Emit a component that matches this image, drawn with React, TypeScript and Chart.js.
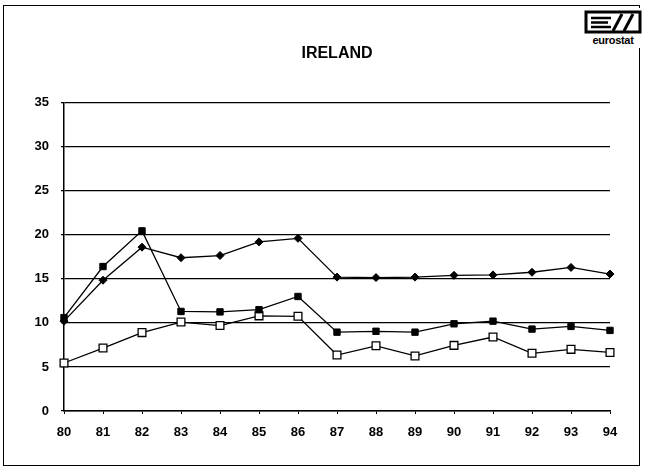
import React, { useEffect, useRef } from "react";
import { Chart, registerables } from "chart.js";

Chart.register(...registerables);

const TITLE = "IRELAND";
const YEARS = ["80", "81", "82", "83", "84", "85", "86", "87", "88", "89", "90", "91", "92", "93", "94"];
const Y_TICKS = [0, 5, 10, 15, 20, 25, 30, 35];

const SERIES_DIAMOND = [10.2, 14.85, 18.6, 17.4, 17.65, 19.2, 19.6, 15.2, 15.15, 15.2, 15.4, 15.45, 15.75, 16.3, 15.55];
const SERIES_FILLED_SQUARE = [10.6, 16.4, 20.45, 11.3, 11.25, 11.5, 13.0, 8.95, 9.05, 8.95, 9.9, 10.2, 9.3, 9.6, 9.15];
const SERIES_OPEN_SQUARE = [5.45, 7.15, 8.9, 10.1, 9.7, 10.8, 10.75, 6.35, 7.4, 6.25, 7.45, 8.4, 6.55, 7.0, 6.65];

const FONT = "'Liberation Sans', Arial, sans-serif";

export default function App() {
  const ref = useRef<HTMLCanvasElement | null>(null);

  useEffect(() => {
    document.body.style.margin = "0";
    const canvas = ref.current;
    if (!canvas) return;
    const chart = new Chart(canvas, {
      type: "line",
      data: {
        labels: YEARS,
        datasets: [
          {
            label: "Series 1",
            data: SERIES_DIAMOND,
            borderColor: "#000",
            backgroundColor: "#000",
            borderWidth: 1.3,
            pointStyle: "rectRot",
            pointRadius: 4,
            pointBorderWidth: 1,
            pointBackgroundColor: "#000",
            pointBorderColor: "#000",
            tension: 0,
          },
          {
            label: "Series 2",
            data: SERIES_FILLED_SQUARE,
            borderColor: "#000",
            backgroundColor: "#000",
            borderWidth: 1.3,
            pointStyle: "rect",
            pointRadius: 4.5,
            pointBorderWidth: 1,
            pointBackgroundColor: "#000",
            pointBorderColor: "#000",
            tension: 0,
          },
          {
            label: "Series 3",
            data: SERIES_OPEN_SQUARE,
            borderColor: "#000",
            backgroundColor: "#fff",
            borderWidth: 1.3,
            pointStyle: "rect",
            pointRadius: 5.5,
            pointBorderWidth: 1.3,
            pointBackgroundColor: "#fff",
            pointBorderColor: "#000",
            tension: 0,
          },
        ],
      },
      options: {
        responsive: false,
        animation: false,
        devicePixelRatio: 1,
        layout: { padding: { left: 0, top: 44, right: 37, bottom: 27 } },
        plugins: {
          legend: { display: false },
          tooltip: { enabled: false },
          title: {
            display: true,
            fullSize: false,
            text: TITLE,
            color: "#000",
            font: { family: FONT, size: 16, weight: "bold" },
            padding: { top: 0, bottom: 39.5 },
          },
        },
        scales: {
          x: {
            type: "category",
            offset: false,
            afterFit: (s: any) => {
              s.height = 30;
            },
            grid: {
              display: true,
              drawOnChartArea: false,
              drawTicks: true,
              tickLength: 3,
              color: "#000",
              lineWidth: 1,
            },
            border: { display: true, color: "#000", width: 1.5 },
            ticks: {
              color: "#000",
              font: { family: FONT, size: 13, weight: "bold" },
              padding: 11,
              maxRotation: 0,
              autoSkip: false,
            },
          },
          y: {
            type: "linear",
            min: 0,
            max: 35,
            afterFit: (s: any) => {
              s.width = 64;
            },
            afterBuildTicks: (s: any) => {
              s.ticks = Y_TICKS.map((v) => ({ value: v }));
            },
            grid: {
              color: "#000",
              lineWidth: 1.2,
              drawTicks: true,
              tickLength: 3,
            },
            border: { display: true, color: "#000", width: 1.5 },
            ticks: {
              color: "#000",
              font: { family: FONT, size: 13, weight: "bold" },
              padding: 12,
            },
          },
        },
      },
    });
    return () => chart.destroy();
  }, []);

  return (
    <div style={{ position: "relative", width: 647, height: 468, background: "#fff" }}>
      <canvas ref={ref} width={647} height={468} style={{ position: "absolute", left: 0, top: 0 }} />
      <div
        style={{
          position: "absolute",
          left: 3,
          top: 5,
          width: 637,
          height: 461,
          border: "1.5px solid #000",
          boxSizing: "border-box",
          pointerEvents: "none",
        }}
      />
      <div
        style={{
          position: "absolute",
          left: 581,
          top: 8,
          width: 64,
          height: 40,
          background: "#fff",
          textAlign: "center",
        }}
      >
        <svg width={58} height={24} viewBox="0 0 58 24" style={{ display: "block", margin: "2px auto 0" }}>
          <path d="M2 2 H56 V22 H2 Z" fill="none" stroke="#000" strokeWidth={3} />
          <line x1={7} y1={8} x2={27} y2={8} stroke="#000" strokeWidth={2.5} />
          <line x1={7} y1={12.5} x2={24} y2={12.5} stroke="#000" strokeWidth={2.5} />
          <line x1={7} y1={17} x2={27} y2={17} stroke="#000" strokeWidth={2.5} />
          <line x1={29} y1={21} x2={38} y2={4} stroke="#000" strokeWidth={3} />
          <line x1={40} y1={21} x2={49} y2={4} stroke="#000" strokeWidth={3} />
        </svg>
        <div
          style={{
            fontFamily: FONT,
            fontWeight: "bold",
            fontSize: 11,
            lineHeight: "12px",
            color: "#000",
            marginTop: 0,
            letterSpacing: "-0.3px",
          }}
        >
          eurostat
        </div>
      </div>
    </div>
  );
}
